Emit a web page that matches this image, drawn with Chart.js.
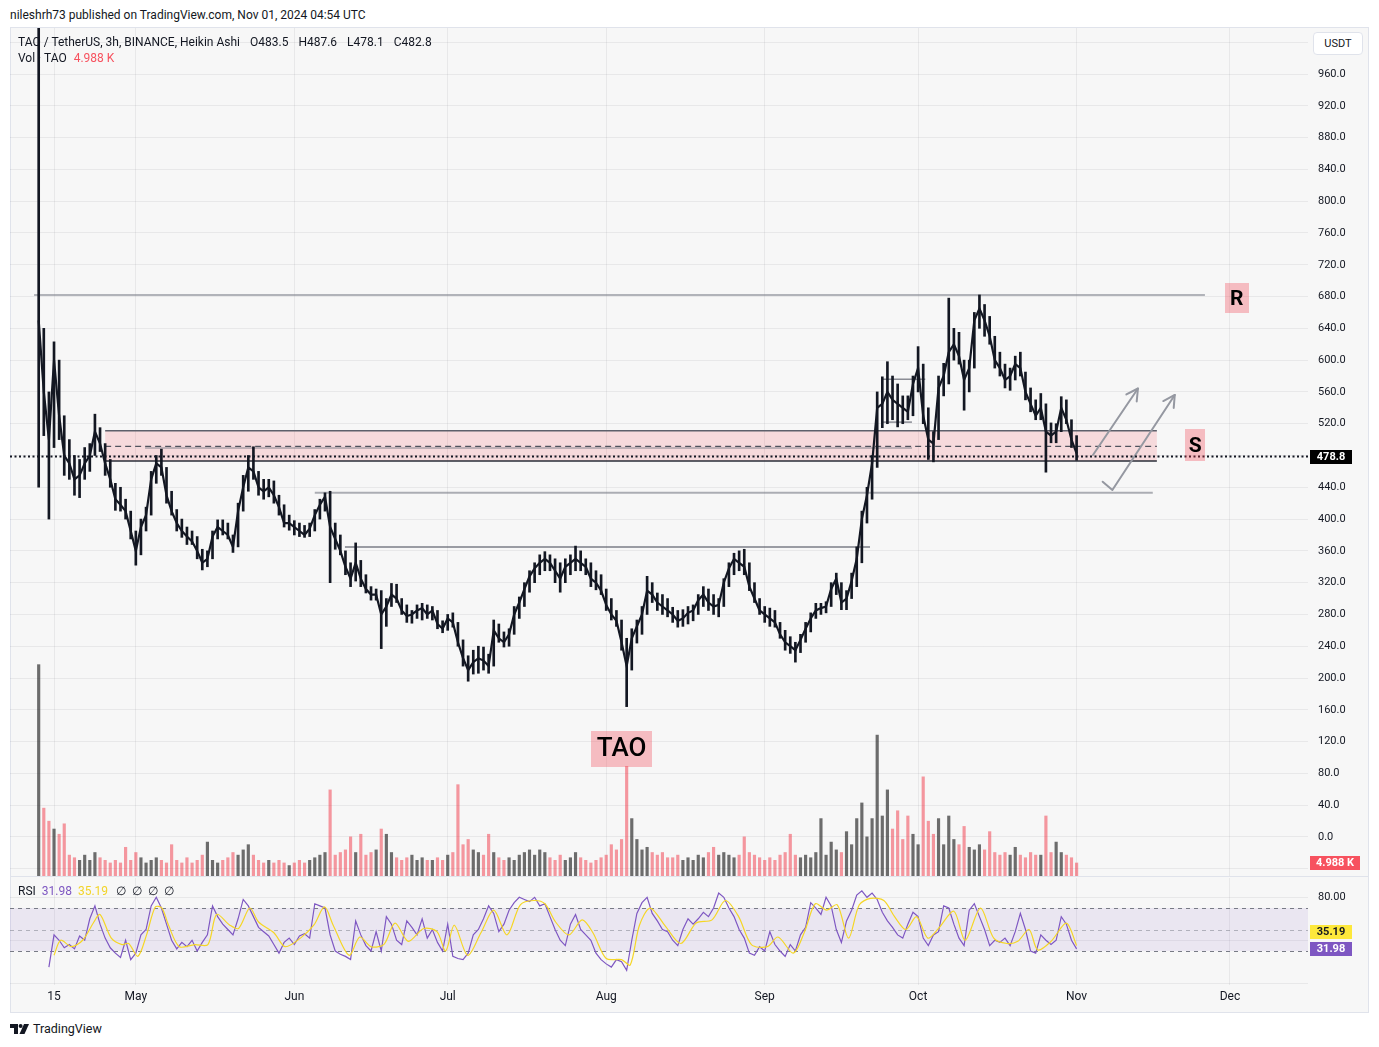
<!DOCTYPE html>
<html>
<head>
<meta charset="utf-8">
<title>TAO / TetherUS 3h</title>
<script src="https://cdn.jsdelivr.net/npm/chart.js@4.4.1/dist/chart.umd.min.js"></script>
<style>
  html, body { margin: 0; padding: 0; background: #fff; }
  body { width: 1379px; height: 1047px; position: relative; overflow: hidden;
         font-family: Roboto, "Liberation Sans", sans-serif; color: #131722; }
  .abs { position: absolute; white-space: nowrap; }
  #header { left: 10px; top: 7px; font-size: 12px; line-height: 16px; }
  #frame { left: 10px; top: 27px; width: 1359px; height: 986px; background: #f7f7f7;
           border: 1px solid #e0e3eb; box-sizing: border-box; }
  #main { left: 10px; top: 28px; }
  #rsi { left: 10px; top: 876px; }
  .leg { font-size: 12px; line-height: 16px; }
  .leg span { margin-left: 10px; }
  #usdt { left: 1313px; top: 32px; width: 50px; height: 23px; background: #fff; border: 1px solid #e0e3eb;
          border-radius: 4px; box-sizing: border-box; font-size: 11px; line-height: 21px; text-align: center; }
  #footer { left: 10px; top: 1021px; font-size: 12.5px; line-height: 16px; }
  #footer svg { vertical-align: -1px; margin-right: 4px; }
</style>
</head>
<body>
<div id="header" class="abs">nileshrh73 published on TradingView.com, Nov 01, 2024 04:54 UTC</div>
<div id="frame" class="abs"></div>
<canvas id="main" class="abs" width="1359" height="848"></canvas>
<canvas id="rsi" class="abs" width="1359" height="136"></canvas>
<div class="abs leg" style="left:18px;top:34px;">TAO / TetherUS, 3h, BINANCE, Heikin Ashi<span>O483.5</span><span>H487.6</span><span>L478.1</span><span>C482.8</span></div>
<div class="abs leg" style="left:18px;top:50px;">Vol · TAO<span style="color:#f7525f;margin-left:7px;">4.988 K</span></div>
<div class="abs leg" style="left:18px;top:883px;">RSI<span style="color:#7e57c2;margin-left:6px;">31.98</span><span style="color:#f2d42a;margin-left:6px;">35.19</span><span style="margin-left:8px;">∅</span><span style="margin-left:6px;">∅</span><span style="margin-left:6px;">∅</span><span style="margin-left:6px;">∅</span></div>
<div id="usdt" class="abs">USDT</div>
<div id="footer" class="abs"><svg width="19" height="10" viewBox="0 0 19 10"><path d="M0 0H8V10H4V4H0Z" fill="#131722"/><circle cx="10.6" cy="2" r="2" fill="#131722"/><path d="M14 0H19L14.5 10H9.5Z" fill="#131722"/></svg>TradingView</div>

<script>
const FONT = 'Roboto, "Liberation Sans", sans-serif';
const TEXT = '#131722';
const GRID = 'rgba(42,46,57,0.07)';

// x = days counted from 15 Apr 2024 (day 0); one value per day, first day = -3
const FIRST_DAY = -3;
const monthTickDays = [0, 16, 47, 77, 108, 139, 169, 200, 230];
const monthTickLabels = ['15', 'May', 'Jun', 'Jul', 'Aug', 'Sep', 'Oct', 'Nov', 'Dec'];
const priceTicks = [-40, 0, 40, 80, 120, 160, 200, 240, 280, 320, 360, 400, 440, 480, 520,
  560, 600, 640, 680, 720, 760, 800, 840, 880, 920, 960, 1000];
const rsiTicks = [0, 40, 80];

const priceHigh = [
  1100, 640, 560, 623, 600, 530, 500, 480, 475, 490,
  495, 532, 515, 495, 475, 445, 440, 425, 410, 385,
  400, 415, 460, 480, 488, 465, 435, 412, 400, 390,
  385, 378, 362, 360, 385, 399, 399, 395, 380, 420,
  455, 480, 491, 460, 450, 450, 448, 430, 418, 405,
  398, 395, 392, 395, 412, 425, 433, 435, 395, 380,
  360, 345, 370, 348, 330, 315, 312, 310, 300, 319,
  318, 300, 292, 285, 292, 294, 292, 290, 285, 272,
  280, 282, 270, 248, 228, 235, 240, 239, 230, 273,
  268, 258, 262, 290, 302, 320, 335, 345, 355, 359,
  355, 350, 345, 350, 355, 366, 360, 350, 345, 335,
  330, 312, 300, 285, 273, 250, 262, 273, 290, 328,
  320, 307, 305, 300, 289, 285, 286, 290, 292, 305,
  315, 312, 305, 300, 325, 345, 357, 360, 362, 345,
  320, 300, 290, 288, 285, 270, 260, 252, 245, 255,
  270, 282, 294, 294, 296, 320, 332, 320, 310, 332,
  365, 410, 440, 480, 560, 579, 598, 580, 570, 555,
  555, 580, 617, 595, 540, 510, 580, 596, 678, 640,
  635, 600, 600, 660, 682, 670, 655, 630, 610, 595,
  590, 605, 610, 585, 565, 550, 558, 545, 521, 520,
  554, 550, 525, 505
];
const priceLow = [
  440, 505, 400, 490, 500, 455, 450, 430, 427, 450,
  460, 480, 485, 455, 440, 411, 410, 400, 375, 342,
  355, 385, 405, 445, 455, 420, 405, 385, 377, 368,
  368, 350, 336, 340, 350, 375, 380, 375, 358, 365,
  410, 435, 450, 430, 425, 428, 420, 405, 390, 386,
  380, 378, 377, 378, 385, 400, 410, 320, 362, 355,
  330, 315, 322, 315, 307, 298, 298, 237, 265, 290,
  295, 280, 270, 269, 275, 273, 275, 273, 262, 257,
  260, 264, 240, 215, 196, 205, 206, 210, 206, 215,
  245, 239, 240, 255, 275, 290, 308, 320, 330, 335,
  335, 320, 308, 320, 330, 335, 335, 330, 315, 311,
  305, 285, 273, 265, 235, 164, 210, 244, 255, 280,
  295, 285, 280, 277, 270, 264, 265, 268, 272, 280,
  290, 285, 280, 277, 290, 315, 330, 335, 330, 310,
  295, 280, 270, 265, 264, 250, 235, 231, 220, 232,
  245, 258, 275, 280, 282, 290, 305, 286, 286, 300,
  315, 345, 395, 425, 465, 515, 520, 525, 516, 520,
  525, 530, 560, 520, 475, 472, 500, 555, 570, 600,
  595, 537, 560, 590, 640, 630, 620, 590, 580, 565,
  562, 575, 580, 550, 535, 525, 525, 459, 496, 496,
  510, 520, 490, 474
];
const priceClose = [
  650, 560, 500, 600, 530, 480, 470, 450, 455, 470,
  480, 510, 495, 470, 450, 425, 418, 410, 385, 360,
  390, 405, 450, 470, 465, 430, 410, 395, 385, 378,
  372, 360, 345, 350, 378, 390, 385, 380, 365, 410,
  440, 465, 460, 440, 435, 440, 430, 415, 395, 395,
  390, 385, 380, 388, 405, 418, 428, 390, 375, 360,
  340, 325, 345, 325, 312, 305, 305, 280, 290, 305,
  300, 285, 278, 280, 285, 288, 280, 285, 268, 262,
  275, 270, 245, 225, 210, 220, 225, 222, 215, 260,
  250, 245, 255, 280, 295, 312, 328, 338, 345, 350,
  345, 335, 325, 340, 345, 350, 345, 340, 325, 320,
  310, 292, 280, 272, 245, 215, 250, 265, 280, 310,
  305, 295, 290, 285, 280, 272, 275, 282, 285, 298,
  305, 295, 290, 292, 320, 338, 350, 345, 340, 315,
  300, 285, 280, 275, 270, 255, 245, 240, 235, 248,
  262, 275, 285, 288, 290, 312, 325, 295, 300, 322,
  350, 400, 430, 470, 540, 545, 560, 550, 545, 540,
  535, 570, 590, 530, 500, 495, 565, 580, 610, 620,
  605, 575, 590, 650, 665, 650, 630, 600, 590, 575,
  580, 595, 590, 560, 545, 530, 540, 510, 505, 510,
  540, 525, 500, 482.8
];
// volume in thousands of TAO
const volumeK = [
  81, 26, 21, 18, 16, 20, 8, 7, 6, 8,
  6, 9, 7, 6, 5, 6, 5, 11, 6, 9,
  7, 5, 6, 7, 6, 5, 12, 6, 5, 7,
  5, 6, 8, 13, 6, 5, 6, 7, 9, 8,
  10, 12, 8, 6, 5, 6, 5, 6, 5, 4,
  5, 6, 5, 6, 7, 8, 9, 33, 8, 9,
  10, 15, 9, 16, 8, 9, 10, 18, 16, 9,
  7, 6, 7, 8, 6, 7, 6, 6, 7, 6,
  8, 9, 35, 12, 14, 10, 9, 8, 16, 9,
  7, 6, 7, 6, 8, 9, 10, 8, 10, 9,
  7, 6, 8, 6, 7, 9, 7, 6, 5, 6,
  7, 8, 12, 10, 14, 42, 22, 14, 10, 11,
  9, 8, 9, 7, 7, 8, 6, 7, 6, 8,
  7, 9, 11, 8, 9, 8, 7, 8, 15, 9,
  8, 7, 6, 7, 6, 8, 9, 16, 8, 7,
  8, 7, 9, 22, 8, 13, 10, 9, 17, 12,
  22, 28, 15, 22, 54, 23, 33, 18, 25, 14,
  23, 16, 12, 38, 21, 16, 22, 12, 23, 14,
  12, 19, 11, 10, 12, 10, 17, 9, 8, 9,
  8, 11, 8, 7, 9, 8, 8, 23, 9, 13,
  9, 8, 7, 4.988
];
const rsiValues = [
  null, null, 15, 45, 40, 33, 36, 32, 44, 40,
  60, 72, 55, 42, 33, 28, 24, 40, 22, 28,
  45, 50, 72, 80, 70, 55, 40, 32, 38, 34,
  40, 30, 38, 45, 72, 62, 55, 50, 45, 60,
  78, 72, 62, 52, 48, 44, 36, 28, 38, 42,
  36, 44, 46, 42, 74, 72, 70, 45, 30, 27,
  25, 22, 58, 45, 35, 30, 48, 30, 62, 55,
  40, 36, 58, 52, 45, 60, 42, 50, 38, 30,
  55, 25, 23, 22, 28, 45, 50, 60, 72, 65,
  48, 55, 68, 75, 80, 78, 76, 80, 72, 74,
  62, 50, 40, 35, 55, 64, 50, 45, 40, 28,
  22, 18, 15, 22, 20, 12, 40, 65, 75, 80,
  65, 58, 50, 48, 40, 35, 50, 60, 55, 60,
  66, 62, 70, 84, 80, 70, 62, 50, 42, 28,
  26, 34, 30, 48, 36, 30, 25, 36, 30, 45,
  52, 75, 70, 64, 80, 72, 50, 38, 58, 68,
  82, 86, 80, 84, 78, 66, 58, 52, 45, 42,
  55, 66, 62, 42, 35, 45, 48, 72, 70, 55,
  42, 35, 68, 74, 62, 50, 35, 40, 38, 42,
  35, 48, 65, 50, 30, 28, 45, 40, 36, 40,
  62, 55, 40, 31.98
];
// RSI-based moving average (yellow), read at these days
const rsiMaDays = [0, 1.3, 3.4, 5.6, 7.8, 9, 11.2, 13.3, 14.6, 16.4,
  18.1, 19.8, 21.1, 22.4, 24.5, 27.5, 30.1, 31.8, 34.4, 36.1,
  38.3, 40, 43, 45.2, 48.2, 50.8, 52.9, 54.6, 57.7, 59.8,
  62, 64.5, 66.7, 69.3, 72.3, 74.9, 76.6, 78.3, 80.9, 83.5,
  86, 88.6, 91.2, 93.8, 96, 98.1, 100.7, 103.3, 105.4, 108,
  111, 112.7, 114.5, 116.6, 119.6, 122.6, 125.6, 128.7, 131.3, 133.9,
  136.4, 139.5, 141.6, 144.6, 146.8, 148.9, 151.1, 153.2, 155.4, 157.5,
  159.7, 162.3, 164.4, 166.6, 168.7, 170.9, 173, 176, 178.2, 181.2,
  183.8, 186.4, 188.5, 190.7, 192.4, 195, 198, 200];
const rsiMaValues = [26, 40, 34, 40, 57, 64, 42, 36, 37, 25,
  45, 71, 70, 54, 34, 36, 36, 64, 54, 51,
  70, 57, 47, 34, 42, 54, 71, 54, 26, 43,
  34, 36, 56, 39, 51, 48, 30, 54, 26, 47,
  68, 45, 73, 77, 74, 57, 45, 59, 47, 23,
  22, 17, 54, 70, 53, 37, 56, 59, 77, 62,
  36, 34, 43, 28, 48, 74, 68, 73, 42, 73,
  79, 77, 62, 50, 62, 42, 51, 67, 40, 70,
  42, 37, 39, 50, 31, 39, 56, 35.19];

// drawings on the chart (day, price)
const lastPrice = 478.8;
const resistanceLine = { from: -3.9, to: 225.1, price: 682 };
const supportZone = { from: 10.0, to: 215.7, top: 511, bottom: 473, mid: 491.4 };
const guideLines = [
  { from: 17.8, to: 167.8, price: 489.5, color: 'rgba(120,123,134,0.45)', width: 2 },
  { from: 51, to: 214.9, price: 433, color: 'rgba(120,123,134,0.6)', width: 2 },
  { from: 56.9, to: 159.6, price: 365, color: 'rgba(93,96,107,0.8)', width: 1.5 },
  { from: 161.8, to: 170.4, price: 576, color: 'rgba(93,96,107,0.7)', width: 1.5 },
  { from: 162, to: 167.8, price: 522, color: 'rgba(93,96,107,0.7)', width: 1.5 }
];
const arrowPaths = [
  [[203.2, 480.7], [212.0, 564.3]],
  [[205.1, 447], [207.0, 436.6], [219.2, 556.2]]
];
const textBoxes = [
  { text: 'R', day: 231.3, price: 677.6, w: 24, h: 30, font: 'bold 21px ' + FONT },
  { text: 'S', day: 223.2, price: 492.6, w: 20, h: 32, font: 'bold 21px ' + FONT },
  { text: 'TAO', day: 111.0, price: 110.7, w: 61, h: 36, font: '500 26px ' + FONT }
];

const days = priceClose.map((_, i) => FIRST_DAY + i);
const volColors = priceClose.map((c, i) =>
  (i > 0 && c < priceClose[i - 1]) ? 'rgba(242,54,69,0.5)' : 'rgba(42,42,42,0.68)');

function hline(ctx, x1, x2, y, color, width) {
  ctx.strokeStyle = color; ctx.lineWidth = width;
  ctx.beginPath(); ctx.moveTo(x1, y); ctx.lineTo(x2, y); ctx.stroke();
}

function axisBox(ctx, x, yc, w, bg, fg, text) {
  ctx.fillStyle = bg;
  ctx.fillRect(x, Math.round(yc - 7), w, 14);
  ctx.fillStyle = fg;
  ctx.font = 'bold 11px ' + FONT;
  ctx.textAlign = 'center'; ctx.textBaseline = 'middle';
  ctx.fillText(text, x + w / 2, yc + 0.5);
}

const drawings = {
  id: 'drawings',
  beforeDatasetsDraw(chart) {
    const { ctx, chartArea: a, scales: { x, y } } = chart;
    ctx.save();
    ctx.beginPath(); ctx.rect(a.left, a.top, a.width, a.height); ctx.clip();
    const zx1 = x.getPixelForValue(supportZone.from), zx2 = x.getPixelForValue(supportZone.to);
    const zt = y.getPixelForValue(supportZone.top), zb = y.getPixelForValue(supportZone.bottom);
    ctx.fillStyle = 'rgba(242,54,69,0.15)';
    ctx.fillRect(zx1, zt, zx2 - zx1, zb - zt);
    for (const g of guideLines) {
      hline(ctx, x.getPixelForValue(g.from), x.getPixelForValue(g.to), y.getPixelForValue(g.price), g.color, g.width);
    }
    hline(ctx, zx1, zx2, zt, '#5d606b', 1.5);
    hline(ctx, zx1, zx2, zb, '#2a2e39', 1.5);
    ctx.setLineDash([6, 4]);
    hline(ctx, zx1, zx2, y.getPixelForValue(supportZone.mid), '#50535e', 1.2);
    ctx.setLineDash([]);
    hline(ctx, x.getPixelForValue(resistanceLine.from), x.getPixelForValue(resistanceLine.to),
      y.getPixelForValue(resistanceLine.price), 'rgba(120,123,134,0.55)', 2);
    // arrows
    ctx.strokeStyle = '#9598a1'; ctx.lineWidth = 2; ctx.lineCap = 'round'; ctx.lineJoin = 'round';
    for (const path of arrowPaths) {
      const pts = path.map(p => [x.getPixelForValue(p[0]), y.getPixelForValue(p[1])]);
      ctx.beginPath();
      pts.forEach((p, i) => i ? ctx.lineTo(p[0], p[1]) : ctx.moveTo(p[0], p[1]));
      ctx.stroke();
      const [ex, ey] = pts[pts.length - 1], [px, py] = pts[pts.length - 2];
      const ang = Math.atan2(ey - py, ex - px);
      ctx.beginPath();
      ctx.moveTo(ex - 13 * Math.cos(ang - 0.5), ey - 13 * Math.sin(ang - 0.5));
      ctx.lineTo(ex, ey);
      ctx.lineTo(ex - 13 * Math.cos(ang + 0.5), ey - 13 * Math.sin(ang + 0.5));
      ctx.stroke();
    }
    ctx.restore();
  },
  afterDatasetsDraw(chart) {
    const { ctx, chartArea: a, scales: { x, y } } = chart;
    ctx.save();
    const ly = Math.round(y.getPixelForValue(lastPrice)) + 0.5;
    ctx.setLineDash([2, 2.5]);
    hline(ctx, a.left, a.right, ly, '#131722', 2);
    ctx.setLineDash([]);
    for (const b of textBoxes) {
      const cx = x.getPixelForValue(b.day), cy = y.getPixelForValue(b.price);
      ctx.fillStyle = 'rgba(242,54,69,0.3)';
      ctx.fillRect(Math.round(cx - b.w / 2), Math.round(cy - b.h / 2), b.w, b.h);
      ctx.fillStyle = '#000';
      ctx.font = b.font; ctx.textAlign = 'center'; ctx.textBaseline = 'middle';
      ctx.fillText(b.text, cx, cy + 1);
    }
    ctx.restore();
  },
  afterDraw(chart) {
    const { ctx, chartArea: a, scales: { y, yv } } = chart;
    ctx.save();
    axisBox(ctx, a.right + 2, Math.round(y.getPixelForValue(lastPrice)) + 0.5, 42, '#000', '#fff', lastPrice.toFixed(1));
    const vy = Math.min(yv.getPixelForValue(volumeK[volumeK.length - 1]), a.bottom - 8);
    axisBox(ctx, a.right + 2, vy, 50, '#f7525f', '#fff', '4.988 K');
    ctx.restore();
  }
};

const rsiDecor = {
  id: 'rsiDecor',
  beforeDraw(chart) {
    const { ctx } = chart;
    hline(ctx, 0, chart.width, 0.5, '#e0e3eb', 1);
  },
  beforeDatasetsDraw(chart) {
    const { ctx, chartArea: a, scales: { y } } = chart;
    const y70 = y.getPixelForValue(70), y30 = y.getPixelForValue(30), y50 = y.getPixelForValue(50);
    ctx.save();
    ctx.fillStyle = 'rgba(126,87,194,0.1)';
    ctx.fillRect(a.left, y70, a.width, y30 - y70);
    ctx.setLineDash([4, 4]);
    hline(ctx, a.left, a.right, Math.round(y70) + 0.5, '#787b86', 1);
    hline(ctx, a.left, a.right, Math.round(y30) + 0.5, '#787b86', 1);
    hline(ctx, a.left, a.right, Math.round(y50) + 0.5, 'rgba(120,123,134,0.5)', 1);
    ctx.restore();
  },
  afterDraw(chart) {
    const { ctx, chartArea: a, scales: { y } } = chart;
    ctx.save();
    const py = y.getPixelForValue(rsiValues[rsiValues.length - 1]);
    const myRaw = y.getPixelForValue(rsiMaValues[rsiMaValues.length - 1]);
    const my = Math.min(myRaw, py - 17);
    axisBox(ctx, a.right + 2, my, 42, '#fde83b', '#131722', '35.19');
    axisBox(ctx, a.right + 2, py, 42, '#7e57c2', '#fff', '31.98');
    ctx.restore();
  }
};

function monthAxis(showLabels, height) {
  return {
    type: 'linear', min: -8.61, max: 245.26, offset: false,
    grid: { color: GRID, drawTicks: false, offset: false },
    border: { display: false },
    ticks: {
      display: showLabels, autoSkip: false, maxRotation: 0, padding: 5,
      color: TEXT, font: { family: FONT, size: 12 },
      callback: v => monthTickLabels[monthTickDays.indexOf(v)] || ''
    },
    afterBuildTicks: s => { s.ticks = monthTickDays.map(v => ({ value: v })); },
    afterFit: s => { s.height = height; s.paddingLeft = 0; s.paddingRight = 0; }
  };
}

new Chart(document.getElementById('main'), {
  type: 'bar',
  data: {
    datasets: [
      { type: 'line', order: 0, data: days.map((d, i) => ({ x: d, y: priceClose[i] })),
        borderColor: '#131722', borderWidth: 2.2, pointRadius: 0, tension: 0 },
      { type: 'bar', order: 1, grouped: false, data: days.map((d, i) => ({ x: d, y: [priceLow[i], priceHigh[i]] })),
        backgroundColor: '#131722', barThickness: 2, borderWidth: 0 },
      { type: 'bar', order: 2, grouped: false, yAxisID: 'yv', data: days.map((d, i) => ({ x: d, y: volumeK[i] })),
        backgroundColor: volColors, barThickness: 2.5, borderWidth: 0 }
    ]
  },
  options: {
    responsive: false, animation: false, events: [],
    layout: { padding: 0 },
    plugins: { legend: { display: false }, tooltip: { enabled: false } },
    scales: {
      x: monthAxis(false, 0),
      y: {
        position: 'right', min: -49.1, max: 1017.9,
        grid: { color: GRID, drawTicks: false }, border: { display: false },
        ticks: { autoSkip: false, padding: 10, color: TEXT, font: { family: FONT, size: 11 },
          callback: v => (v < 0 || v > 960) ? '' : v.toFixed(1) },
        afterBuildTicks: s => { s.ticks = priceTicks.map(v => ({ value: v })); },
        afterFit: s => { s.width = 61; s.paddingTop = 0; s.paddingBottom = 0; }
      },
      yv: { display: false, position: 'left', min: 0, max: 325 }
    }
  },
  plugins: [drawings]
});

new Chart(document.getElementById('rsi'), {
  type: 'line',
  data: {
    datasets: [
      { order: 0, data: rsiMaDays.map((d, i) => ({ x: d, y: rsiMaValues[i] })),
        borderColor: '#f5d626', borderWidth: 1.2, pointRadius: 0, tension: 0.3 },
      { order: 1, data: days.map((d, i) => ({ x: d, y: rsiValues[i] })),
        borderColor: '#7e57c2', borderWidth: 1.2, pointRadius: 0, tension: 0 }
    ]
  },
  options: {
    responsive: false, animation: false, events: [],
    layout: { padding: { top: 2 } },
    plugins: { legend: { display: false }, tooltip: { enabled: false } },
    scales: {
      x: monthAxis(true, 27),
      y: {
        position: 'right', min: -1.66, max: 97.97,
        grid: { color: GRID, drawTicks: false }, border: { display: false },
        ticks: { autoSkip: false, padding: 10, color: TEXT, font: { family: FONT, size: 11 },
          callback: v => v === 80 ? '80.00' : '' },
        afterBuildTicks: s => { s.ticks = rsiTicks.map(v => ({ value: v })); },
        afterFit: s => { s.width = 61; s.paddingTop = 0; s.paddingBottom = 0; }
      }
    }
  },
  plugins: [rsiDecor]
});
</script>
</body>
</html>
